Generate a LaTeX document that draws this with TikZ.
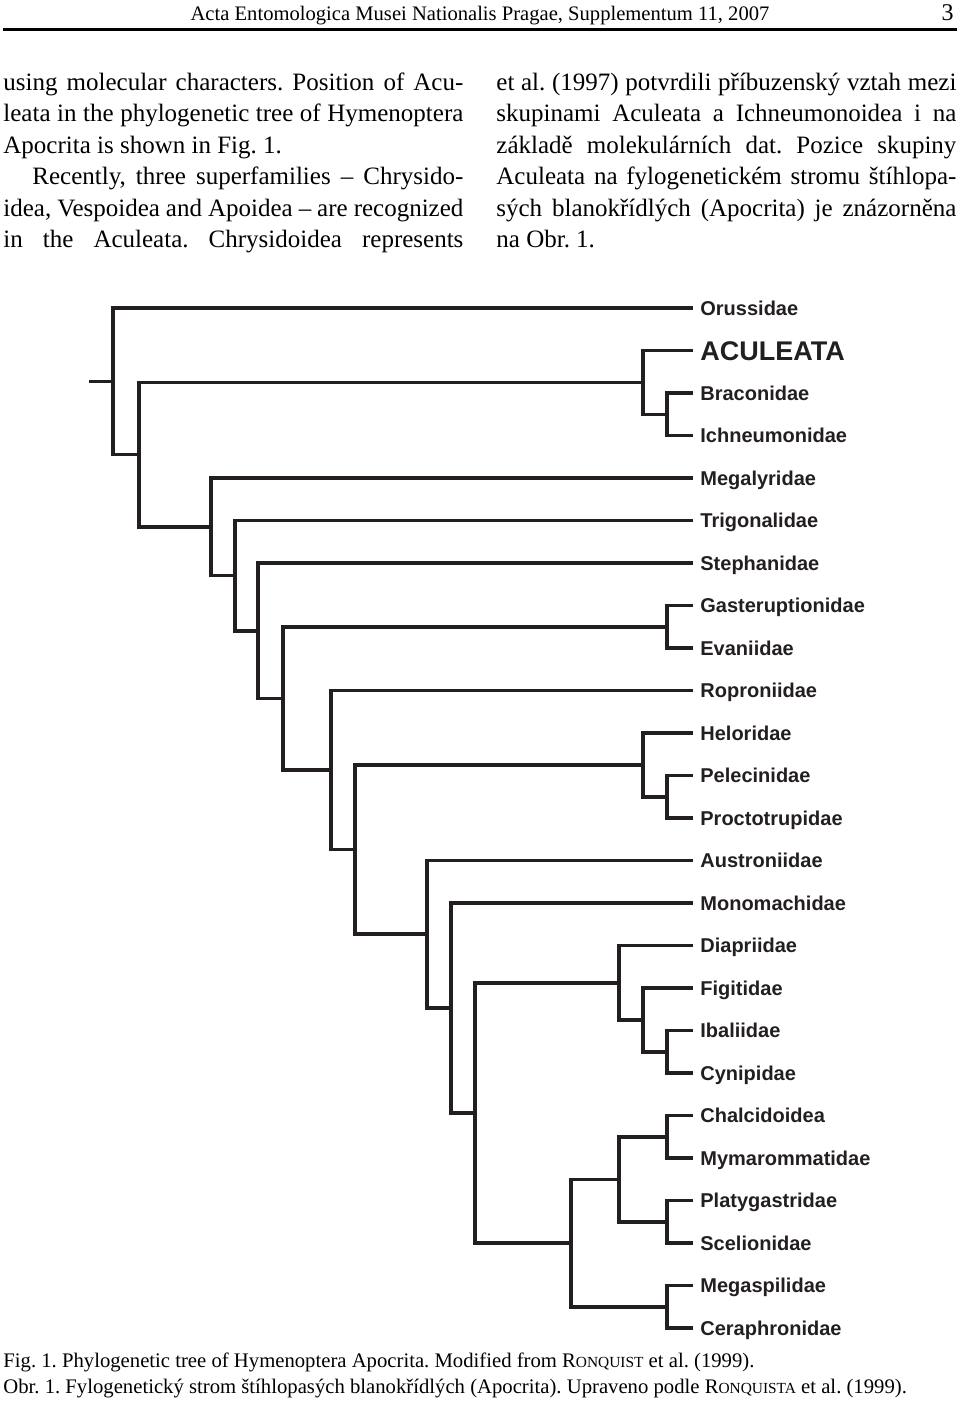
\documentclass[tikz,border=0pt]{standalone}
\usepackage{fontspec}
\setmainfont{Liberation Serif}
\newfontfamily\taxonfont{Liberation Sans}
\usetikzlibrary{positioning}
\frenchspacing
\definecolor{ink}{RGB}{35,31,32}
\newcommand*{\smc}[1]{{\fontsize{7.7}{9}\selectfont #1}}
\newcommand*{\jline}[2][230pt]{\makebox[#1][s]{#2}}

\tikzset{
  branch/.style={draw=ink, line width=1.8pt},
  taxon/.style={anchor=west, inner xsep=3.5pt, inner ysep=0pt, text height=7.2pt, text depth=0pt,
    text=ink, font=\taxonfont\bfseries\fontsize{10}{12}\selectfont},
  bigtaxon/.style={taxon, text height=9.7pt, font=\taxonfont\bfseries\fontsize{13.5}{16}\selectfont},
  bodyline/.style={anchor=base west, inner sep=0pt, font=\fontsize{12.5}{15}\selectfont},
  capline/.style={anchor=base west, inner sep=0pt, font=\fontsize{10.35}{12}\selectfont},
}

\begin{document}
\begin{tikzpicture}[x=0.5pt, y=-0.5pt]
 \useasboundingbox (0,0) rectangle (960,1410);

 \node[anchor=base, inner sep=0pt, font=\fontsize{10.3}{12}\selectfont] (head) at (480,20) {Acta Entomologica Musei Nationalis Pragae, Supplementum 11, 2007};
 \node[anchor=base east, inner sep=0pt, font=\fontsize{12}{14}\selectfont] (page) at (954,20) {3};
 \draw[line width=1.5pt] (3,29) -- (957,29);

 \node[bodyline] (l1) at (3,90) {\jline{using molecular characters. Position of Acu-}};
 \node[bodyline] (l2) at (3,121.5) {\jline{leata in the phylogenetic tree of Hymenoptera}};
 \node[bodyline] (l3) at (3,153) {Apocrita is shown in Fig. 1.};
 \node[bodyline] (l4) at (32,184.5) {\jline[215.5pt]{Recently, three superfamilies – Chrysido-}};
 \node[bodyline] (l5) at (3,216) {\jline{idea, Vespoidea and Apoidea – are recognized}};
 \node[bodyline] (l6) at (3,247.5) {\jline{in the Aculeata. Chrysidoidea represents}};

 \node[bodyline] (r1) at (496,90) {\jline{et al. (1997) potvrdili příbuzenský vztah mezi}};
 \node[bodyline] (r2) at (496,121.5) {\jline{skupinami Aculeata a Ichneumonoidea i na}};
 \node[bodyline] (r3) at (496,153) {\jline{základě molekulárních dat. Pozice skupiny}};
 \node[bodyline] (r4) at (496,184.5) {\jline{Aculeata na fylogenetickém stromu štíhlopa-}};
 \node[bodyline] (r5) at (496,216) {\jline{sých blanokřídlých (Apocrita) je znázorněna}};
 \node[bodyline] (r6) at (496,247.5) {na Obr. 1.};

 \node[taxon] (oru) at (693,308) {Orussidae};
 \node[bigtaxon] (acu) at (693,350.5) {ACULEATA};
 \node[taxon] (bra) at (693,393) {Braconidae};
 \node[taxon] (ich) at (693,435.5) {Ichneumonidae};
 \node[taxon] (meg) at (693,478) {Megalyridae};
 \node[taxon] (tri) at (693,520.5) {Trigonalidae};
 \node[taxon] (ste) at (693,563) {Stephanidae};
 \node[taxon] (gas) at (693,605.5) {Gasteruptionidae};
 \node[taxon] (eva) at (693,648) {Evaniidae};
 \node[taxon] (rop) at (693,690.5) {Roproniidae};
 \node[taxon] (hel) at (693,733) {Heloridae};
 \node[taxon] (pel) at (693,775.5) {Pelecinidae};
 \node[taxon] (pro) at (693,818) {Proctotrupidae};
 \node[taxon] (aus) at (693,860.5) {Austroniidae};
 \node[taxon] (mon) at (693,903) {Monomachidae};
 \node[taxon] (dia) at (693,945.5) {Diapriidae};
 \node[taxon] (fig) at (693,988) {Figitidae};
 \node[taxon] (iba) at (693,1030.5) {Ibaliidae};
 \node[taxon] (cyn) at (693,1073) {Cynipidae};
 \node[taxon] (cha) at (693,1115.5) {Chalcidoidea};
 \node[taxon] (mym) at (693,1158) {Mymarommatidae};
 \node[taxon] (pla) at (693,1200.5) {Platygastridae};
 \node[taxon] (sce) at (693,1243) {Scelionidae};
 \node[taxon] (mgs) at (693,1285.5) {Megaspilidae};
 \node[taxon] (cer) at (693,1328) {Ceraphronidae};

 \coordinate (base) at (89,381.3);
 \coordinate (root) at (113,381.3);
 \coordinate (apo) at (139,454.6);
 \coordinate (acuich) at (643,382.4);
 \coordinate (ichn) at (667,414.3);
 \coordinate (n3) at (211,526.8);
 \coordinate (n4) at (235,575.6);
 \coordinate (n5) at (258,630.7);
 \coordinate (n6) at (283,698.4);
 \coordinate (evan) at (667,626.8);
 \coordinate (n7) at (331,770);
 \coordinate (n8) at (355,849.5);
 \coordinate (proc) at (643,764.9);
 \coordinate (pelpro) at (667,796.8);
 \coordinate (n9) at (427,934.2);
 \coordinate (n10) at (451,1007.9);
 \coordinate (n11) at (475,1112.8);
 \coordinate (cyni) at (619,982.7);
 \coordinate (figcyn) at (643,1019.9);
 \coordinate (ibacyn) at (667,1051.8);
 \coordinate (chpl) at (571,1243);
 \coordinate (chsc) at (619,1179.3);
 \coordinate (chmy) at (667,1136.8);
 \coordinate (plsc) at (667,1221.8);
 \coordinate (cera) at (667,1306.8);

 \draw[branch] (base) -- (root);
 \draw[branch] (root) |- (oru.west);
 \draw[branch] (root) |- (apo);
 \draw[branch] (apo) |- (acuich);
 \draw[branch] (apo) |- (n3);
 \draw[branch] (acuich) |- (acu.west);
 \draw[branch] (acuich) |- (ichn);
 \draw[branch] (ichn) |- (bra.west);
 \draw[branch] (ichn) |- (ich.west);
 \draw[branch] (n3) |- (meg.west);
 \draw[branch] (n3) |- (n4);
 \draw[branch] (n4) |- (tri.west);
 \draw[branch] (n4) |- (n5);
 \draw[branch] (n5) |- (ste.west);
 \draw[branch] (n5) |- (n6);
 \draw[branch] (n6) |- (evan);
 \draw[branch] (n6) |- (n7);
 \draw[branch] (evan) |- (gas.west);
 \draw[branch] (evan) |- (eva.west);
 \draw[branch] (n7) |- (rop.west);
 \draw[branch] (n7) |- (n8);
 \draw[branch] (n8) |- (proc);
 \draw[branch] (n8) |- (n9);
 \draw[branch] (proc) |- (hel.west);
 \draw[branch] (proc) |- (pelpro);
 \draw[branch] (pelpro) |- (pel.west);
 \draw[branch] (pelpro) |- (pro.west);
 \draw[branch] (n9) |- (aus.west);
 \draw[branch] (n9) |- (n10);
 \draw[branch] (n10) |- (mon.west);
 \draw[branch] (n10) |- (n11);
 \draw[branch] (n11) |- (cyni);
 \draw[branch] (n11) |- (chpl);
 \draw[branch] (cyni) |- (dia.west);
 \draw[branch] (cyni) |- (figcyn);
 \draw[branch] (figcyn) |- (fig.west);
 \draw[branch] (figcyn) |- (ibacyn);
 \draw[branch] (ibacyn) |- (iba.west);
 \draw[branch] (ibacyn) |- (cyn.west);
 \draw[branch] (chpl) |- (chsc);
 \draw[branch] (chpl) |- (cera);
 \draw[branch] (chsc) |- (chmy);
 \draw[branch] (chsc) |- (plsc);
 \draw[branch] (chmy) |- (cha.west);
 \draw[branch] (chmy) |- (mym.west);
 \draw[branch] (plsc) |- (pla.west);
 \draw[branch] (plsc) |- (sce.west);
 \draw[branch] (cera) |- (mgs.west);
 \draw[branch] (cera) |- (cer.west);

 \node[capline] (cap1) at (3,1367) {Fig. 1. Phylogenetic tree of Hymenoptera Apocrita. Modified from R\smc{ONQUIST} et al. (1999).};
 \node[capline] (cap2) at (3,1393) {Obr. 1. Fylogenetický strom štíhlopasých blanokřídlých (Apocrita). Upraveno podle R\smc{ONQUISTA} et al. (1999).};
\end{tikzpicture}
\end{document}
